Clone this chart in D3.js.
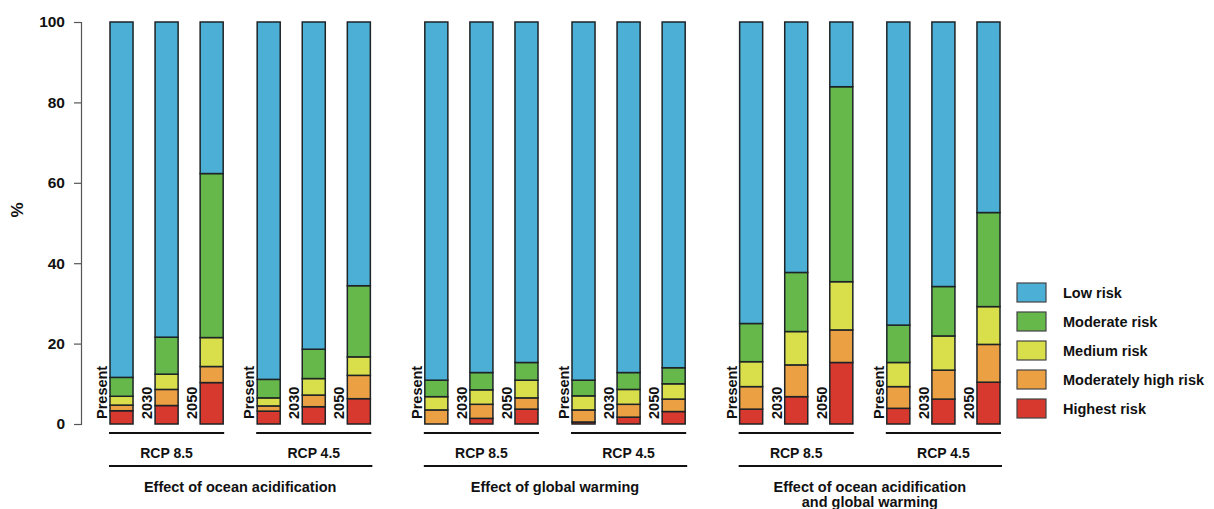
<!DOCTYPE html>
<html>
<head>
<meta charset="utf-8">
<script src="https://cdn.jsdelivr.net/npm/d3@7/dist/d3.min.js"></script>
<style>
  html, body { margin: 0; padding: 0; background: #fff; }
  svg text { font-family: "Liberation Sans", Arial, Helvetica, sans-serif; font-weight: bold; fill: #111; }
</style>
</head>
<body>
<svg id="chart" width="1214" height="509"></svg>
<script>
// Time horizons, scenarios and effects (one bar per effect x scenario x horizon)
const periods = ["Present", "2030", "2050"];
const scenarios = ["RCP 8.5", "RCP 4.5"];
const effects = [
  ["Effect of ocean acidification"],
  ["Effect of global warming"],
  ["Effect of ocean acidification", "and global warming"]
];

// Share of area (%) in each risk class, bars ordered effect > scenario > period
const highestRisk        = [3.3, 4.6, 10.3, 3.2, 4.3, 6.3,  0.0, 1.4, 3.7, 0.5, 1.7, 3.1,  3.7, 6.8, 15.3, 3.9, 6.2, 10.4];
const moderatelyHighRisk = [1.4, 4.0, 4.0,  1.3, 2.9, 5.8,  3.5, 3.5, 2.8, 3.0, 3.2, 3.1,  5.6, 7.9, 8.1,  5.4, 7.2, 9.4];
const mediumRisk         = [2.2, 3.8, 7.2,  2.0, 4.1, 4.6,  3.3, 3.6, 4.4, 3.5, 3.7, 3.8,  6.2, 8.3, 12.0, 6.0, 8.5, 9.4];
const moderateRisk       = [4.7, 9.2, 40.8, 4.6, 7.3, 17.7, 4.1, 4.3, 4.4, 3.9, 4.2, 4.0,  9.5, 14.7, 48.5, 9.3, 12.3, 23.4];
const lowRisk            = [88.4, 78.4, 37.7, 88.9, 81.4, 65.6, 89.1, 87.2, 84.7, 89.1, 87.2, 86.0, 75.0, 62.3, 16.1, 75.4, 65.8, 47.4];

const yTicks = [0, 20, 40, 60, 80, 100];

// Risk classes, bottom to top of each stack
const riskKeys = ["highest", "modHigh", "medium", "moderate", "low"];
const riskNames = {
  low: "Low risk", moderate: "Moderate risk", medium: "Medium risk",
  modHigh: "Moderately high risk", highest: "Highest risk"
};
const riskColors = {
  low: "#4cb0d6", moderate: "#67b84b", medium: "#d8df4a",
  modHigh: "#eba044", highest: "#d8392f"
};

// Build one row per bar
const rows = [];
let i = 0;
effects.forEach((eff, ei) => {
  scenarios.forEach(sc => {
    periods.forEach(p => {
      rows.push({
        effect: ei, scenario: sc, period: p,
        highest: highestRisk[i], modHigh: moderatelyHighRisk[i], medium: mediumRisk[i],
        moderate: moderateRisk[i], low: lowRisk[i]
      });
      i++;
    });
  });
});

const svg = d3.select("#chart");
const stroke = "#1d2326";

// Nested band scales: effect -> scenario -> period
const xEffect = d3.scaleBand().domain(d3.range(effects.length)).range([110, 1000]).paddingInner(0.173).paddingOuter(0);
const xScenario = d3.scaleBand().domain(scenarios).range([0, xEffect.bandwidth()]).paddingInner(0.231).paddingOuter(0);
const xPeriod = d3.scaleBand().domain(periods).range([0, xScenario.bandwidth()]).paddingInner(0.489).paddingOuter(0);

const y = d3.scaleLinear().domain([0, 100]).range([424, 22]);

const barX = d => xEffect(d.effect) + xScenario(d.scenario) + xPeriod(d.period);

// Y axis
const yAxis = d3.axisLeft(y).tickValues(yTicks).tickSize(7).tickPadding(9);
const gy = svg.append("g").attr("transform", "translate(81,0)").call(yAxis);
gy.select(".domain").attr("stroke", "#555").attr("stroke-width", 1.2);
gy.selectAll(".tick line").attr("stroke", "#555").attr("stroke-width", 1.2);
gy.selectAll(".tick text").style("font-size", "15.5px").style("font-weight", "bold").attr("fill", "#111");

svg.append("text")
  .attr("transform", "translate(23,210) rotate(-90)")
  .attr("text-anchor", "middle")
  .style("font-size", "17px")
  .text("%");

// Stacked bars
const stacked = d3.stack().keys(riskKeys)(rows);
const layers = svg.append("g").selectAll("g")
  .data(stacked).join("g")
  .attr("fill", s => riskColors[s.key]);

layers.selectAll("rect")
  .data(s => s.map(seg => ({ seg, row: seg.data })))
  .join("rect")
  .filter(d => d.seg[1] - d.seg[0] > 0)
  .attr("x", d => barX(d.row))
  .attr("width", xPeriod.bandwidth())
  .attr("y", d => y(d.seg[1]))
  .attr("height", d => y(d.seg[0]) - y(d.seg[1]))
  .attr("stroke", stroke)
  .attr("stroke-width", 1.5);

// Period labels, rotated beside each bar
svg.append("g").selectAll("text")
  .data(rows).join("text")
  .attr("transform", d => `translate(${barX(d) - 3},419) rotate(-90)`)
  .attr("text-anchor", "start")
  .style("font-size", "14.5px")
  .text(d => d.period);

// Scenario brackets and labels
const scen = [];
effects.forEach((e, ei) => scenarios.forEach(sc => scen.push({ ei, sc })));
const sg = svg.append("g");
sg.selectAll("line")
  .data(scen).join("line")
  .attr("x1", d => xEffect(d.ei) + xScenario(d.sc) - 1)
  .attr("x2", d => xEffect(d.ei) + xScenario(d.sc) + xScenario.bandwidth() + 1)
  .attr("y1", 433).attr("y2", 433)
  .attr("stroke", "#111").attr("stroke-width", 2);
sg.selectAll("text")
  .data(scen).join("text")
  .attr("x", d => xEffect(d.ei) + xScenario(d.sc) + xScenario.bandwidth() / 2)
  .attr("y", 458)
  .attr("text-anchor", "middle")
  .style("font-size", "14px")
  .text(d => d.sc);

// Effect brackets and titles
const eg = svg.append("g");
eg.selectAll("line")
  .data(effects.map((t, ei) => ei)).join("line")
  .attr("x1", ei => xEffect(ei) - 1)
  .attr("x2", ei => xEffect(ei) + xEffect.bandwidth() + 2)
  .attr("y1", 466).attr("y2", 466)
  .attr("stroke", "#111").attr("stroke-width", 2);
effects.forEach((lines, ei) => {
  const t = eg.append("text")
    .attr("x", xEffect(ei) + xEffect.bandwidth() / 2)
    .attr("y", 492)
    .attr("text-anchor", "middle")
    .style("font-size", "14.5px");
  lines.forEach((ln, li) => {
    t.append("tspan")
      .attr("x", xEffect(ei) + xEffect.bandwidth() / 2)
      .attr("dy", li === 0 ? 0 : 15)
      .text(ln);
  });
});

// Legend, top entry = low risk
const legendKeys = riskKeys.slice().reverse();
const lg = svg.append("g").attr("transform", "translate(1017,283)");
const item = lg.selectAll("g").data(legendKeys).join("g")
  .attr("transform", (k, j) => `translate(0,${j * 29})`);
item.append("rect")
  .attr("width", 29).attr("height", 19)
  .attr("fill", k => riskColors[k])
  .attr("stroke", "#444").attr("stroke-width", 1.2);
item.append("text")
  .attr("x", 46).attr("y", 15)
  .style("font-size", "14.5px")
  .text(k => riskNames[k]);
</script>
</body>
</html>
